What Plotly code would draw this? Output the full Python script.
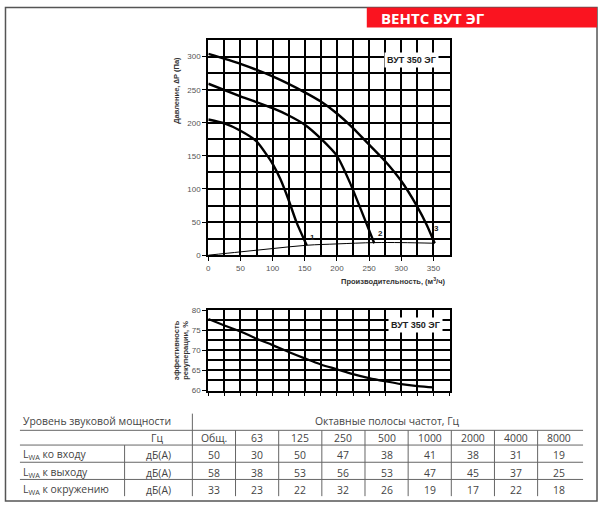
import plotly.graph_objects as go

W, H = 601, 509

# ---------------- data ----------------
# fan curves: airflow (m3/h) vs pressure (Pa)
q1 = [0, 25, 50, 75, 92, 100, 112, 125, 137, 153]
p1 = [205, 199, 188, 172, 150, 138, 115, 83, 50, 15]
q2 = [0, 50, 100, 125, 150, 175, 200, 220, 245, 258]
p2 = [259, 240, 222, 211, 197, 176, 150, 110, 50, 18]
q3 = [0, 50, 100, 150, 175, 200, 225, 250, 275, 300, 325, 340, 352]
p3 = [304, 289, 270, 246, 232, 214, 192, 167, 142, 112, 73, 45, 18]
# system curve
qs = [0, 50, 100, 153, 200, 258, 300, 352]
ps = [0, 5, 10, 15, 17, 19, 19, 18]
# heat recovery efficiency (%)
qe = [0, 25, 50, 75, 100, 125, 150, 175, 200, 225, 250, 275, 300, 325, 350]
eff = [77.8, 76.2, 74.7, 72.9, 71.3, 69.6, 68.0, 66.5, 65.3, 64.1, 63.1, 62.3, 61.6, 61.1, 60.8]
curve_labels = ["1", "2", "3"]
curve_label_pos = [(162, 27), (268, 33), (354, 40)]

# sound power table
freq_labels = ["Общ.", "63", "125", "250", "500", "1000", "2000", "4000", "8000"]
row_labels = ["L<sub>WA</sub> ко входу", "L<sub>WA</sub> к выходу", "L<sub>WA</sub> к окружению"]
row_unit = "дБ(А)"
sound_values = [
    [50, 30, 50, 47, 38, 41, 38, 31, 19],
    [58, 38, 53, 56, 53, 47, 45, 37, 25],
    [33, 23, 22, 32, 26, 19, 17, 22, 18],
]
title_text = "ВЕНТС ВУТ ЭГ"
model_text = "ВУТ 350 ЭГ"


def px(x):
    return x / W


def py(y):
    return 1 - y / H


fig = go.Figure()

line_style = dict(color="black", width=2.4, shape="spline", smoothing=0.6)
for q, p in [(q1, p1), (q2, p2), (q3, p3)]:
    fig.add_trace(go.Scatter(x=q, y=p, mode="lines", line=line_style, xaxis="x", yaxis="y",
                             showlegend=False, hoverinfo="skip"))
fig.add_trace(go.Scatter(x=qs, y=ps, mode="lines", line=dict(color="black", width=1, shape="spline"),
                         xaxis="x", yaxis="y", showlegend=False, hoverinfo="skip"))
fig.add_trace(go.Scatter(x=qe, y=eff, mode="lines", line=dict(color="black", width=2.2, shape="spline"),
                         xaxis="x2", yaxis="y2", showlegend=False, hoverinfo="skip"))

tickfont = dict(family="Liberation Sans, Arial", size=8, color="#555")
grid = dict(showgrid=True, gridcolor="black", gridwidth=2,
            showline=True, linecolor="black", linewidth=2, mirror=True,
            zeroline=False, ticks="outside", ticklen=4, tickcolor="black", tickwidth=1,
            tickfont=tickfont)

x_dom = [px(207), px(449)]
fig.update_layout(
    width=W, height=H, margin=dict(l=0, r=0, t=0, b=0),
    paper_bgcolor="white", plot_bgcolor="white",
    xaxis=dict(domain=x_dom, range=[0, 375], dtick=50, tick0=0, anchor="y",
               minor=dict(dtick=25, showgrid=True, gridcolor="black", gridwidth=2, ticks=""),
               **grid),
    yaxis=dict(domain=[py(255.7), py(36.7)], range=[0, 325], dtick=50, tick0=0, anchor="x",
               minor=dict(dtick=25, showgrid=True, gridcolor="black", gridwidth=2, ticks=""),
               **grid),
    xaxis2=dict(domain=x_dom, range=[0, 375], dtick=25, tick0=0, anchor="y2",
                showticklabels=False, **{**grid, "ticklen": 3}),
    yaxis2=dict(domain=[py(393.5), py(311.7)], range=[60, 80], dtick=5, tick0=60, anchor="x2",
                minor=dict(dtick=2.5, showgrid=True, gridcolor="black", gridwidth=2, ticks=""),
                **grid),
)

shapes = []
ann = []

# outer frame
shapes.append(dict(type="rect", xref="paper", yref="paper", x0=px(3.5), x1=px(597), y0=py(506), y1=py(3.5),
                   line=dict(color="#555", width=1.5)))
# red title bar
shapes.append(dict(type="rect", xref="paper", yref="paper", x0=px(366), x1=px(597), y0=py(24), y1=py(3.5),
                   fillcolor="#fa1420", line=dict(width=0)))
ann.append(dict(text="<b>" + title_text + "</b>", xref="paper", yref="paper", x=px(378), y=py(14),
                xanchor="left", yanchor="middle", showarrow=False,
                font=dict(family="Open Sans", size=15, color="white")))

# model labels inside plots
ann.append(dict(text="<b>" + model_text + "</b>", xref="paper", yref="paper", x=px(411), y=py(56.5),
                xanchor="center", yanchor="middle", showarrow=False, bgcolor="white",
                borderpad=2, font=dict(family="Liberation Sans, Arial", size=9, color="#222")))
ann.append(dict(text="<b>" + model_text + "</b>", xref="paper", yref="paper", x=px(415), y=py(327),
                xanchor="center", yanchor="middle", showarrow=False, bgcolor="white",
                borderpad=2, font=dict(family="Liberation Sans, Arial", size=9, color="#222")))

# curve numbers
for lab, (xv, yv) in zip(curve_labels, curve_label_pos):
    ann.append(dict(text="<b>" + lab + "</b>", x=xv, y=yv, xref="x", yref="y", showarrow=False,
                    font=dict(family="Liberation Sans, Arial", size=8, color="#222")))

# axis titles
ann.append(dict(text="<b>Давление, ∆P (Па)</b>", xref="paper", yref="paper", x=px(175), y=py(88),
                textangle=-90, showarrow=False, xanchor="center", yanchor="middle",
                font=dict(family="Liberation Sans, Arial", size=7.5, color="#333")))
ann.append(dict(text="<b>Производительность, (м<sup>3</sup>/ч)</b>", xref="paper", yref="paper",
                x=px(447), y=py(282), xanchor="right", yanchor="middle", showarrow=False,
                font=dict(family="Liberation Sans, Arial", size=7.5, color="#333")))
ann.append(dict(text="<b>эффективность<br>рекуперации, %</b>", xref="paper", yref="paper",
                x=px(180), y=py(352), textangle=-90, showarrow=False, xanchor="center", yanchor="middle",
                font=dict(family="Liberation Sans, Arial", size=7.5, color="#333")))

# ---------------- table ----------------
tcol = "#666"
tfont = dict(family="Open Sans", size=10.4, color="#444")
col0 = 191.0
colw = 43.3
hlines = [434, 449, 466.5, 484]
for yv in hlines:
    shapes.append(dict(type="line", xref="paper", yref="paper", x0=px(18), x1=px(583), y0=py(yv), y1=py(yv),
                       line=dict(color=tcol, width=1)))
shapes.append(dict(type="line", xref="paper", yref="paper", x0=px(col0), x1=px(col0), y0=py(417), y1=py(501),
                   line=dict(color=tcol, width=1)))
shapes.append(dict(type="line", xref="paper", yref="paper", x0=px(123), x1=px(123), y0=py(449), y1=py(501),
                   line=dict(color=tcol, width=1)))
for k in range(1, len(freq_labels)):
    xv = col0 + colw * k
    shapes.append(dict(type="line", xref="paper", yref="paper", x0=px(xv), x1=px(xv), y0=py(434), y1=py(501),
                       line=dict(color=tcol, width=1)))

ann.append(dict(text="Уровень звуковой мощности", xref="paper", yref="paper", x=px(19), y=py(425),
                xanchor="left", yanchor="middle", showarrow=False, font=tfont))
ann.append(dict(text="Октавные полосы частот, Гц", xref="paper", yref="paper", x=px(387), y=py(425),
                xanchor="center", yanchor="middle", showarrow=False, font=tfont))
ann.append(dict(text="Гц", xref="paper", yref="paper", x=px(164), y=py(441.5),
                xanchor="right", yanchor="middle", showarrow=False, font=tfont))
for i, f in enumerate(freq_labels):
    ann.append(dict(text=f, xref="paper", yref="paper", x=px(col0 + colw * (i + 0.5)), y=py(441.5),
                    xanchor="center", yanchor="middle", showarrow=False, font=tfont))
row_y = [459, 477, 494.5]
for r, (lab, vals) in enumerate(zip(row_labels, sound_values)):
    ann.append(dict(text=lab, xref="paper", yref="paper", x=px(19), y=py(row_y[r]),
                    xanchor="left", yanchor="middle", showarrow=False, font=tfont))
    ann.append(dict(text=row_unit, xref="paper", yref="paper", x=px(157), y=py(row_y[r]),
                    xanchor="center", yanchor="middle", showarrow=False, font=tfont))
    for i, v in enumerate(vals):
        ann.append(dict(text=str(v), xref="paper", yref="paper", x=px(col0 + colw * (i + 0.5)), y=py(row_y[r]),
                        xanchor="center", yanchor="middle", showarrow=False, font=tfont))

fig.update_layout(shapes=shapes, annotations=ann)
fig.write_html("out.html")
